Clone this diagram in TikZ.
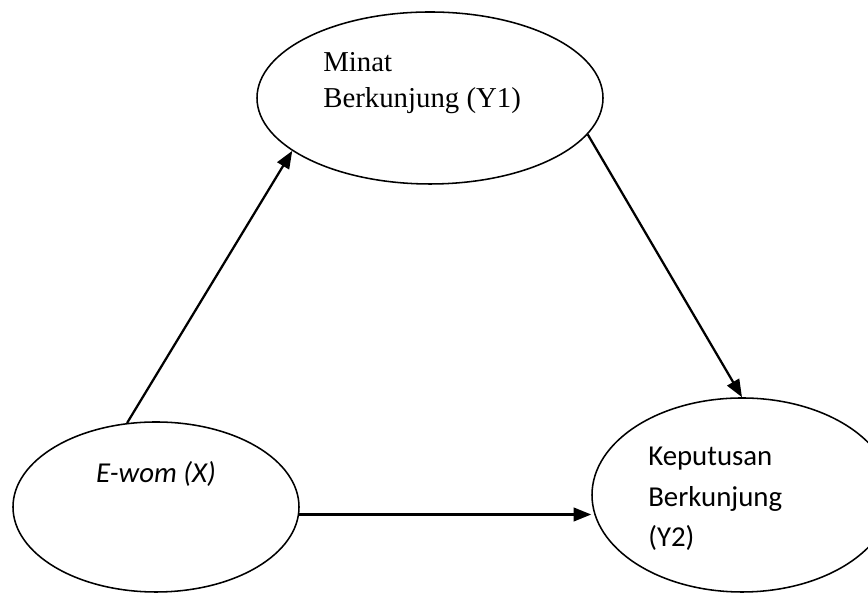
\documentclass[tikz,border=0pt]{standalone}
\usepackage{fontspec}
\setmainfont{Liberation Serif}
\newfontfamily\calibri{Carlito}
\usetikzlibrary{arrows.meta,shapes.geometric,calc,math}
\tikzset{latent/.style={draw,ellipse,line width=1.1pt,inner sep=0pt}}
\tikzset{link/.style={-{Triangle[length=0.44cm,width=0.34cm]}, line width=1.6pt}}
\tikzset{lbl/.style={inner sep=0pt,align=left}}

\begin{document}
\begin{tikzpicture}
    \tikzmath{\W=21.7;\H=14.85;\fs=20.5;}
    \clip (0,0) rectangle (\W,\H);
    \node [latent,minimum width=8.65cm,minimum height=4.3cm] (minat) at (10.75,12.4) {};
    \node [latent,minimum width=7.15cm,minimum height=4.25cm] (ewom) at (3.9,2.175) {};
    \node [latent,minimum width=7.5cm,minimum height=4.85cm] (kep) at (18.55,2.475) {};
    \node [lbl,anchor=base west,font=\fontsize{\fs}{25.6}\selectfont] (minatlbl) at (8.075,12.15) {Minat\\Berkunjung (Y1)};
    \node [lbl,anchor=base,font=\calibri\itshape\fontsize{\fs}{25}\selectfont] (ewomlbl) at (3.9,2.775) {E-wom (X)};
    \node [lbl,anchor=base west,font=\calibri\fontsize{\fs}{29}\selectfont] (keplbl) at (16.2,1.175) {Keputusan\\Berkunjung\\(Y2)};
    \draw [link] (ewom.109) -- (minat.201);
    \draw [link] (minat.-13) -- (kep.north);
    \draw [link] (ewom.-3) -- (ewom.-3 -| kep.west);
\end{tikzpicture}
\end{document}
